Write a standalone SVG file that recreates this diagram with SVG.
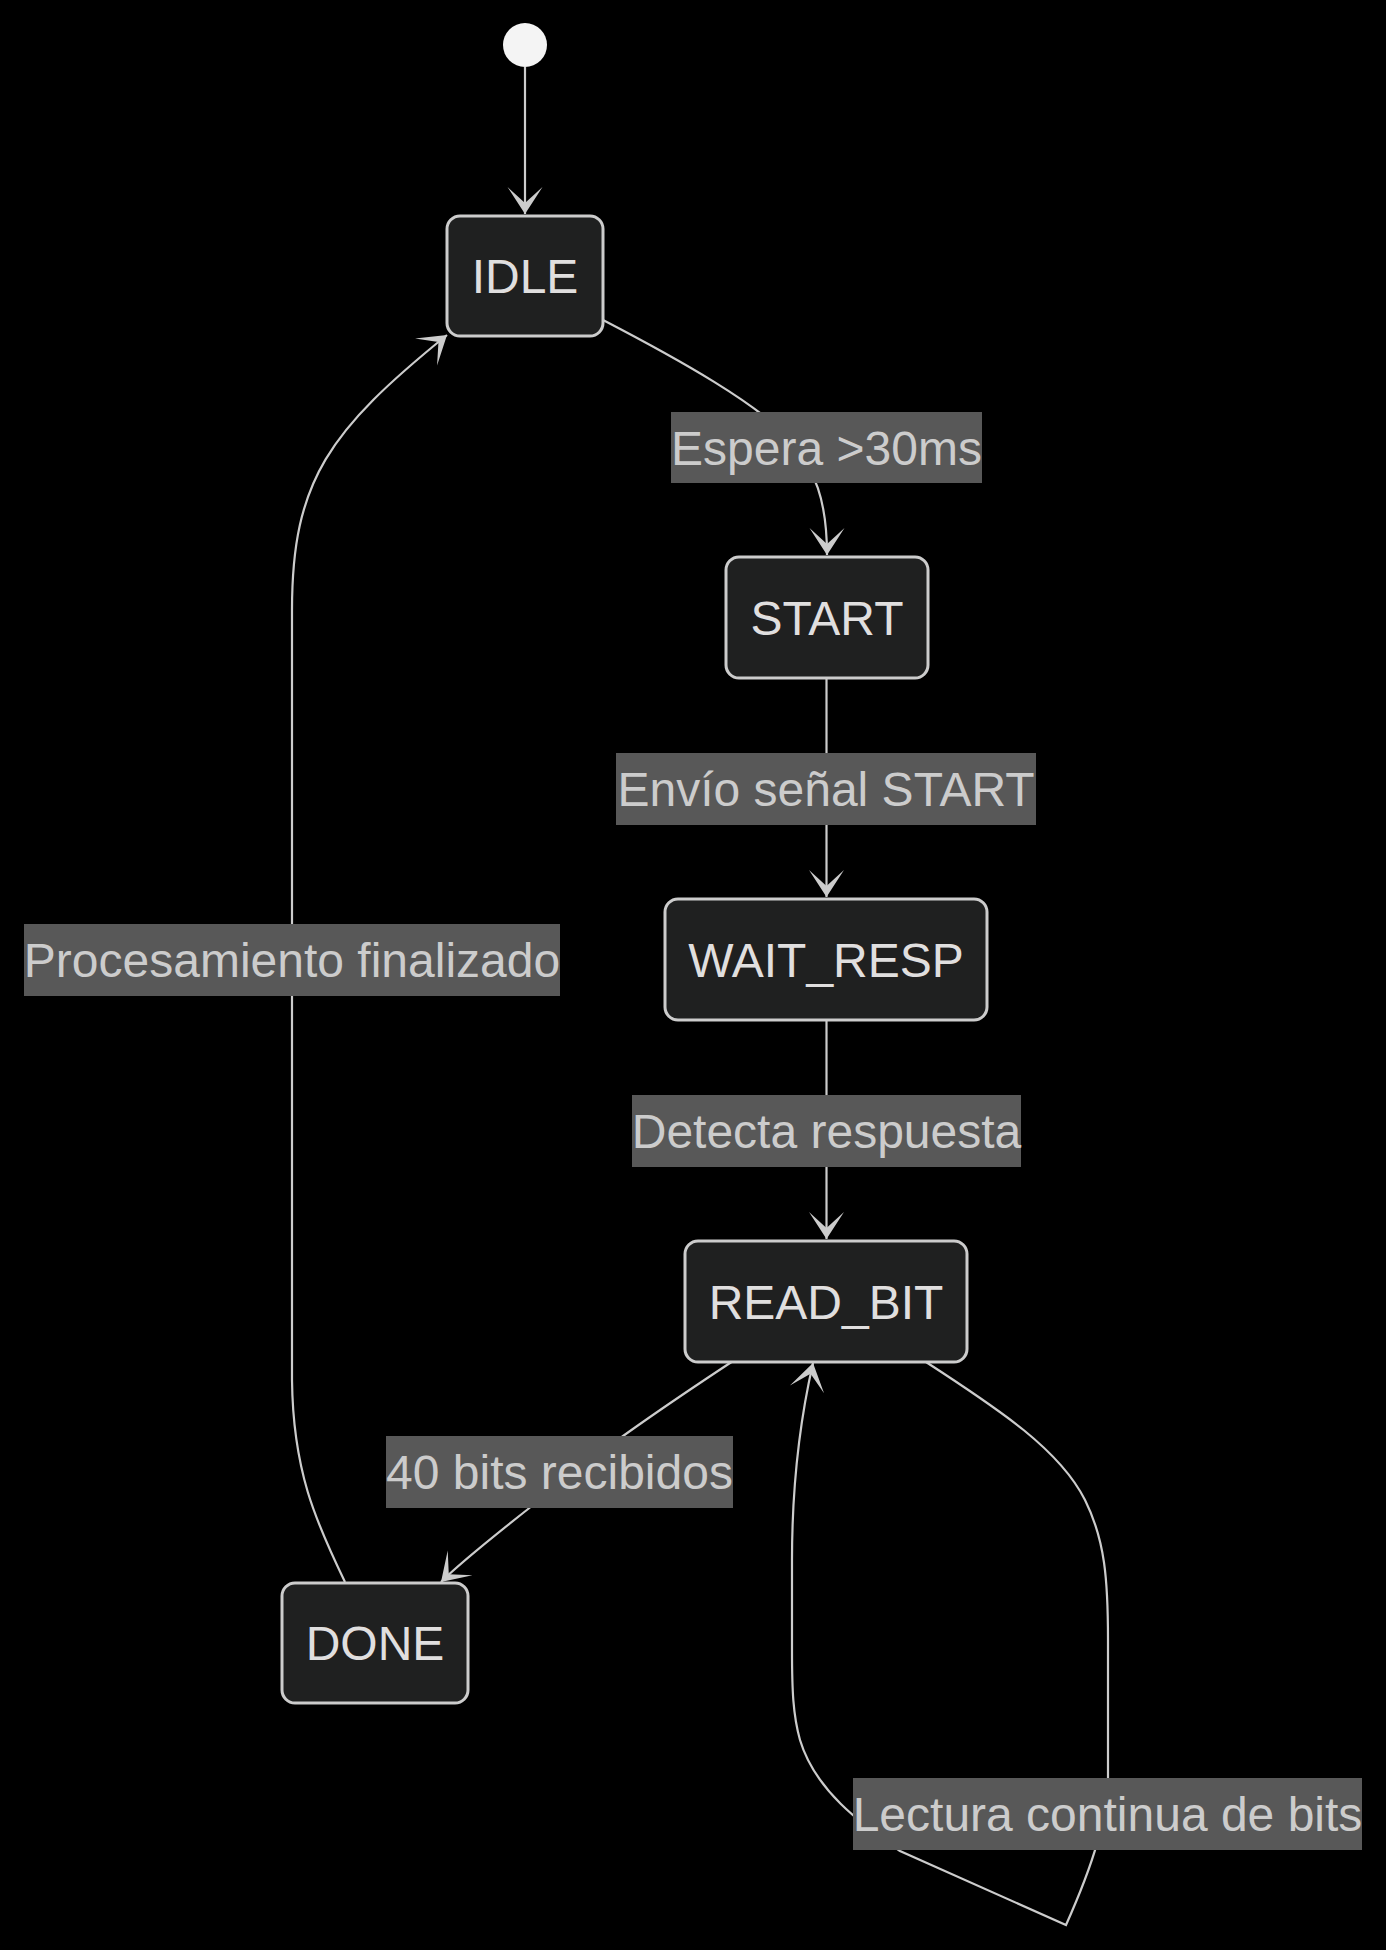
<svg xmlns="http://www.w3.org/2000/svg" width="1386" height="1950" viewBox="0 0 1386 1950">
<style>
.node rect{fill:#1f2020;stroke:#cccccc;stroke-width:3}
.node text{fill:#e0dfdf;font-family:"Liberation Sans",Arial,sans-serif;font-size:48px;text-anchor:middle}
.edge{fill:none;stroke:#cccccc;stroke-width:2.2;marker-end:url(#arrow)}
.lbl rect{fill:#585858}
.lbl text{fill:#cccccc;font-family:"Liberation Sans",Arial,sans-serif;font-size:48px;text-anchor:middle}
</style>
<defs>
<marker id="arrow" viewBox="0 0 30 36" refX="28" refY="18" markerWidth="30" markerHeight="36" markerUnits="userSpaceOnUse" orient="auto" overflow="visible">
<path d="M28,18 L1,0.5 L17,18 L1,35.5 Z" fill="#cccccc"/>
</marker>
</defs>
<rect x="0" y="0" width="1386" height="1950" fill="#000000"/>
<g id="connectors">
<path class="edge" d="M525,67 L525,214"/>
<path class="edge" d="M603,320 C680,360 760,405 790,440 C815,470 827,500 827,555"/>
<path class="edge" d="M826.5,678 L826.5,897"/>
<path class="edge" d="M826.5,1020 L826.5,1239"/>
<path class="edge" d="M731.5,1362 C680,1396 620,1436 575,1472 C530,1508 470,1553 441,1582"/>
<path class="edge" d="M345,1582 C315,1520 293,1470 292,1380 L292,610 C292,480 330,430 447,335"/>
<path class="edge" d="M926,1362 C1000,1410 1060,1450 1085,1500 C1105,1540 1108,1580 1108,1640 L1108,1780 C1106,1820 1095,1860 1066,1925 L900,1851 C860,1823 815,1790 800,1740 C793,1715 792,1690 792,1650 L792,1560 C792,1480 800,1420 813,1363"/>
</g>
<g id="edge-labels">
<g class="lbl" id="label-espera"><rect x="671" y="412" width="311" height="71"/><text x="826.5" y="464.5">Espera &gt;30ms</text></g>
<g class="lbl" id="label-envio"><rect x="616" y="753" width="420" height="72"/><text x="826" y="806">Envío señal START</text></g>
<g class="lbl" id="label-procesamiento"><rect x="24" y="924" width="536" height="72"/><text x="292" y="977">Procesamiento finalizado</text></g>
<g class="lbl" id="label-detecta"><rect x="632" y="1095" width="389" height="72"/><text x="826.5" y="1148">Detecta respuesta</text></g>
<g class="lbl" id="label-40bits"><rect x="386" y="1436" width="347" height="72"/><text x="559.5" y="1489">40 bits recibidos</text></g>
<g class="lbl" id="label-lectura"><rect x="853" y="1778" width="509" height="72"/><text x="1107.5" y="1831">Lectura continua de bits</text></g>
</g>
<g id="node-start"><circle cx="525" cy="45" r="22" fill="#f4f4f4"/></g>
<g class="node" id="node-IDLE"><rect x="447" y="216" width="156" height="120" rx="13" ry="13"/><text x="525" y="293">IDLE</text></g>
<g class="node" id="node-START"><rect x="726" y="557" width="202" height="121" rx="13" ry="13"/><text x="827" y="634.5">START</text></g>
<g class="node" id="node-WAIT_RESP"><rect x="665" y="899" width="322" height="121" rx="13" ry="13"/><text x="826" y="976.5">WAIT_RESP</text></g>
<g class="node" id="node-READ_BIT"><rect x="685" y="1241" width="282" height="121" rx="13" ry="13"/><text x="826" y="1318.5">READ_BIT</text></g>
<g class="node" id="node-DONE"><rect x="282" y="1583" width="186" height="120" rx="13" ry="13"/><text x="375" y="1660">DONE</text></g>
</svg>
